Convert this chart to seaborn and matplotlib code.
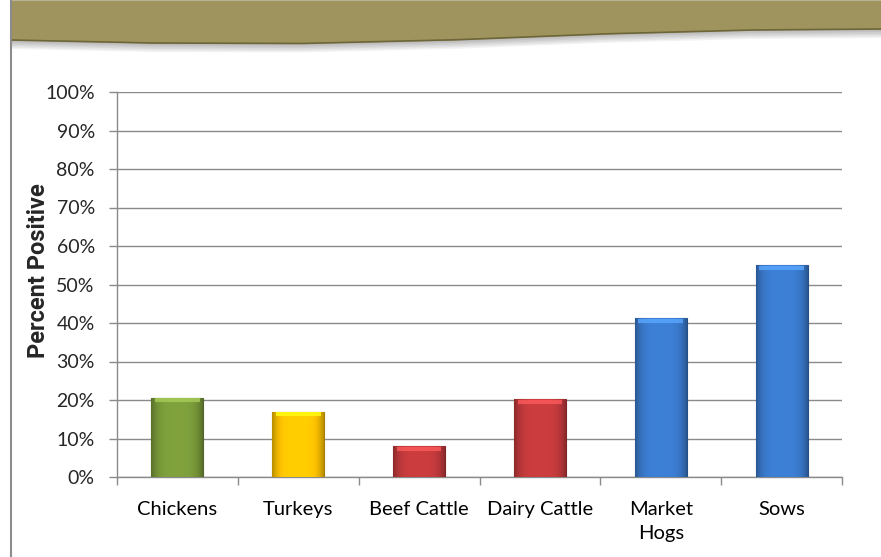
import numpy as np
import pandas as pd
import matplotlib
matplotlib.use("Agg")
import matplotlib.pyplot as plt
from matplotlib.colors import to_rgb
from matplotlib.ticker import PercentFormatter
import seaborn as sns

# Chart data
categories = ["Chickens", "Turkeys", "Beef Cattle", "Dairy Cattle", "Market\nHogs", "Sows"]
percent_positive = [20.5, 17.0, 8.0, 20.2, 41.2, 55.0]
bar_colors = ["#7a9a3a", "#ffc400", "#c23a3c", "#c23a3c", "#3a7acc", "#3a7acc"]
y_ticks = list(range(0, 101, 10))

sns.set_theme(style="white")
plt.rcParams["font.family"] = ["Lato", "DejaVu Sans"]

fig = plt.figure(figsize=(8.81, 5.57), dpi=100)

# background decoration: banner on top and frame line on the left
bg = fig.add_axes([0, 0, 1, 1], zorder=0)
bg.set_xlim(0, 881)
bg.set_ylim(557, 0)
bg.axis("off")
xs = np.linspace(11, 881, 300)
edge = np.interp(xs, [11, 150, 300, 450, 600, 750, 881], [40, 43, 43.5, 40, 34, 30, 29])
for i in range(6):
    bg.fill_between(xs, 0, edge + 1 + i * 1.5, color="black", alpha=0.05, lw=0)
bg.fill_between(xs, 0, edge, color="#9f945d", lw=0)
bg.plot(xs, edge, color="#6e6638", lw=1.2)
bg.plot([11, 11], [0, 557], color="#8c8c8c", lw=1.5)

ax = fig.add_axes([117 / 881, 80 / 557, 725 / 881, 385 / 557], zorder=1)
df = pd.DataFrame({"Animal": categories, "Percent": percent_positive})
sns.barplot(data=df, x="Animal", y="Percent", hue="Animal", palette=bar_colors,
            legend=False, width=0.43, ax=ax, saturation=1, zorder=3)

# shaded look on each bar
for patch, col in zip(ax.patches, bar_colors):
    base = np.array(to_rgb(col))
    t = np.linspace(-1, 1, 64)
    shade = 0.72 + 0.33 * (1 - t ** 4)
    img = np.clip(base[None, None, :] * shade[None, :, None], 0, 1)
    x0, y0 = patch.get_x(), patch.get_y()
    w, h = patch.get_width(), patch.get_height()
    im = ax.imshow(img, extent=[x0, x0 + w, y0, y0 + h], aspect="auto",
                   zorder=3.5, interpolation="bilinear")
    im.set_clip_path(patch)
    patch.set_edgecolor(tuple(base * 0.65))
    patch.set_linewidth(0.8)
    ax.plot([x0 + 0.03, x0 + w - 0.03], [y0 + h - 0.6, y0 + h - 0.6],
            color=tuple(np.clip(base * 1.2 + 0.08, 0, 1)), lw=3, zorder=4,
            solid_capstyle="butt", alpha=0.8)

ax.set_xlim(-0.5, len(categories) - 0.5)
ax.set_ylim(0, 100)
ax.set_yticks(y_ticks)
ax.yaxis.set_major_formatter(PercentFormatter(decimals=0))
ax.grid(axis="y", color="#8a8a8a", lw=1, zorder=0)
ax.set_axisbelow(True)
ax.set_xticks(np.arange(len(categories)))
ax.set_xticklabels(categories, linespacing=1.55)
ax.set_xticks(np.arange(len(categories) + 1) - 0.5, minor=True)
ax.tick_params(axis="x", which="major", length=0, pad=17, labelsize=14.5, colors="black")
ax.tick_params(axis="x", which="minor", length=6, width=1, color="#8a8a8a", direction="out", bottom=True)
ax.tick_params(axis="y", length=6, width=1, color="#8a8a8a", direction="out", left=True,
               labelsize=14, pad=10)
for s in ["top", "right"]:
    ax.spines[s].set_visible(False)
for s in ["left", "bottom"]:
    ax.spines[s].set_color("#8a8a8a")
    ax.spines[s].set_linewidth(1)
ax.set_xlabel("")
ax.set_ylabel("Percent Positive", fontsize=17, fontweight="bold", family="Roboto")
ax.yaxis.set_label_coords(-0.093, 0.535)

fig.savefig("out.png", dpi=100)
